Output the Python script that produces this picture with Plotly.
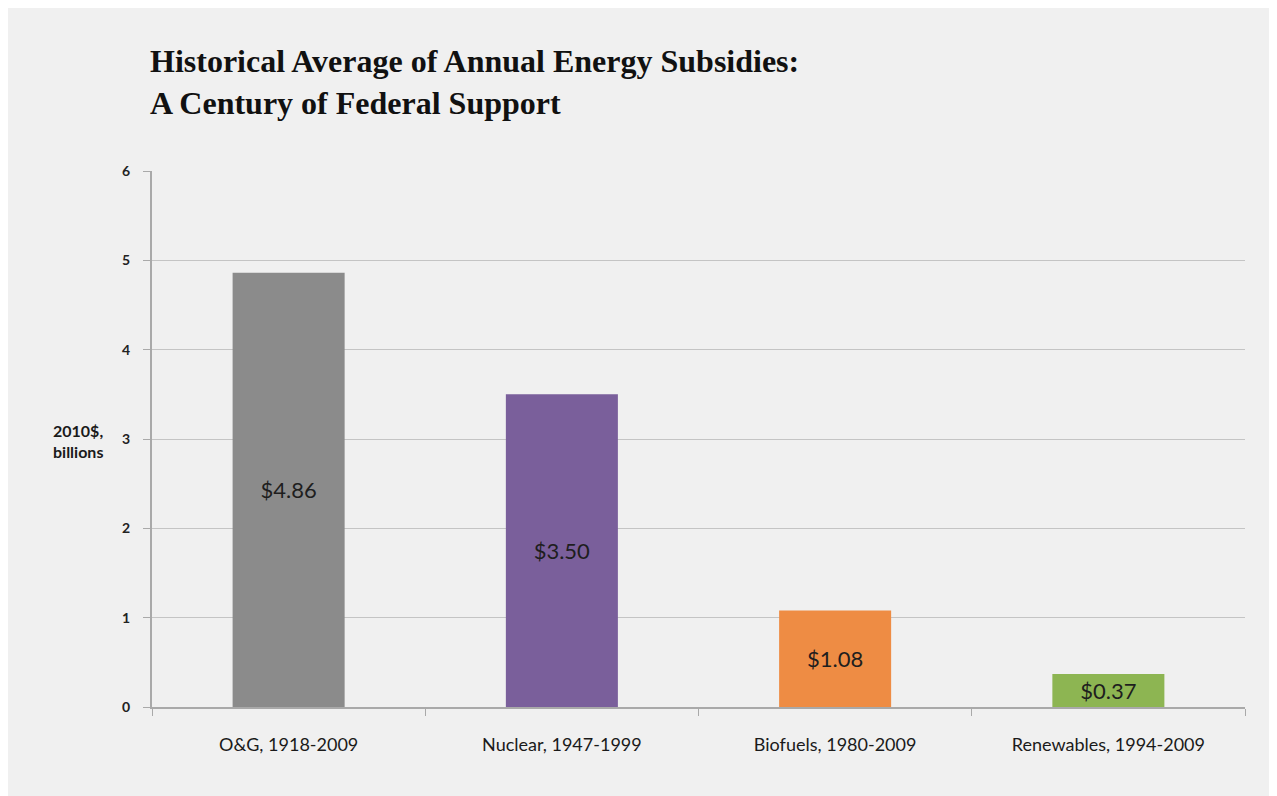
import plotly.graph_objects as go

categories = ["O&G, 1918-2009", "Nuclear, 1947-1999", "Biofuels, 1980-2009", "Renewables, 1994-2009"]
values = [4.86, 3.50, 1.08, 0.37]
labels = ["$4.86", "$3.50", "$1.08", "$0.37"]
colors = ["#8b8b8b", "#7a5f9b", "#ee8c44", "#8db552"]
y_ticks = [0, 1, 2, 3, 4, 5, 6]

# page body has an 8px margin; figure fills the rest of the window
OFF = 8
W, H = 1277 - OFF, 796 - OFF
L, R, T, B = 152 - OFF, 32, 171 - OFF, 89
pw, ph = W - L - R, H - T - B

def px_x(p):
    return (p - OFF - L) / pw

def px_y(p):
    return 1 - (p - OFF - T) / ph

fig = go.Figure()
fig.add_trace(go.Bar(
    x=categories, y=values, text=labels,
    marker=dict(color=colors, line=dict(width=0)),
    width=0.41,
    textposition="inside", insidetextanchor="middle",
    textfont=dict(family="Lato", size=22, color="#1e1e1e"),
    textangle=0,
))

fig.update_layout(
    width=W, height=H,
    margin=dict(l=L, r=R, t=T, b=B),
    paper_bgcolor="#f0f0f0",
    plot_bgcolor="rgba(0,0,0,0)",
    showlegend=False,
    title=dict(
        text="Historical Average of Annual Energy Subsidies:<br>A Century of Federal Support",
        x=(150 - OFF) / W, xref="container", xanchor="left",
        y=1 - (72 - OFF) / H, yref="container", yanchor="middle",
        font=dict(family="Liberation Serif", size=32, color="#111111", weight="bold"),
    ),
    xaxis=dict(
        type="category", tickson="boundaries",
        showline=True, linecolor="#a9a9a9", linewidth=2,
        ticks="outside", ticklen=7, tickcolor="#a9a9a9", tickwidth=1,
        ticklabelstandoff=20,
        tickfont=dict(family="Lato", size=18, color="#1a1a1a"),
        showgrid=False,
    ),
    yaxis=dict(
        range=[0, 6], tickvals=y_ticks,
        showgrid=True, gridcolor="#c4c4c4", gridwidth=1,
        showline=True, linecolor="#a9a9a9", linewidth=2,
        ticks="outside", ticklen=7, tickcolor="#a9a9a9",
        ticklabelstandoff=10,
        tickfont=dict(family="Lato", size=14, color="#222222", weight="bold"),
        zeroline=False,
    ),
    annotations=[dict(
        text="2010$,<br>billions", xref="paper", yref="paper",
        x=px_x(51), y=px_y(441), xanchor="left", yanchor="middle",
        align="left", showarrow=False,
        font=dict(family="Lato", size=16, color="#1a1a1a", weight="bold"),
    )],
)

fig.write_html("out.html")
